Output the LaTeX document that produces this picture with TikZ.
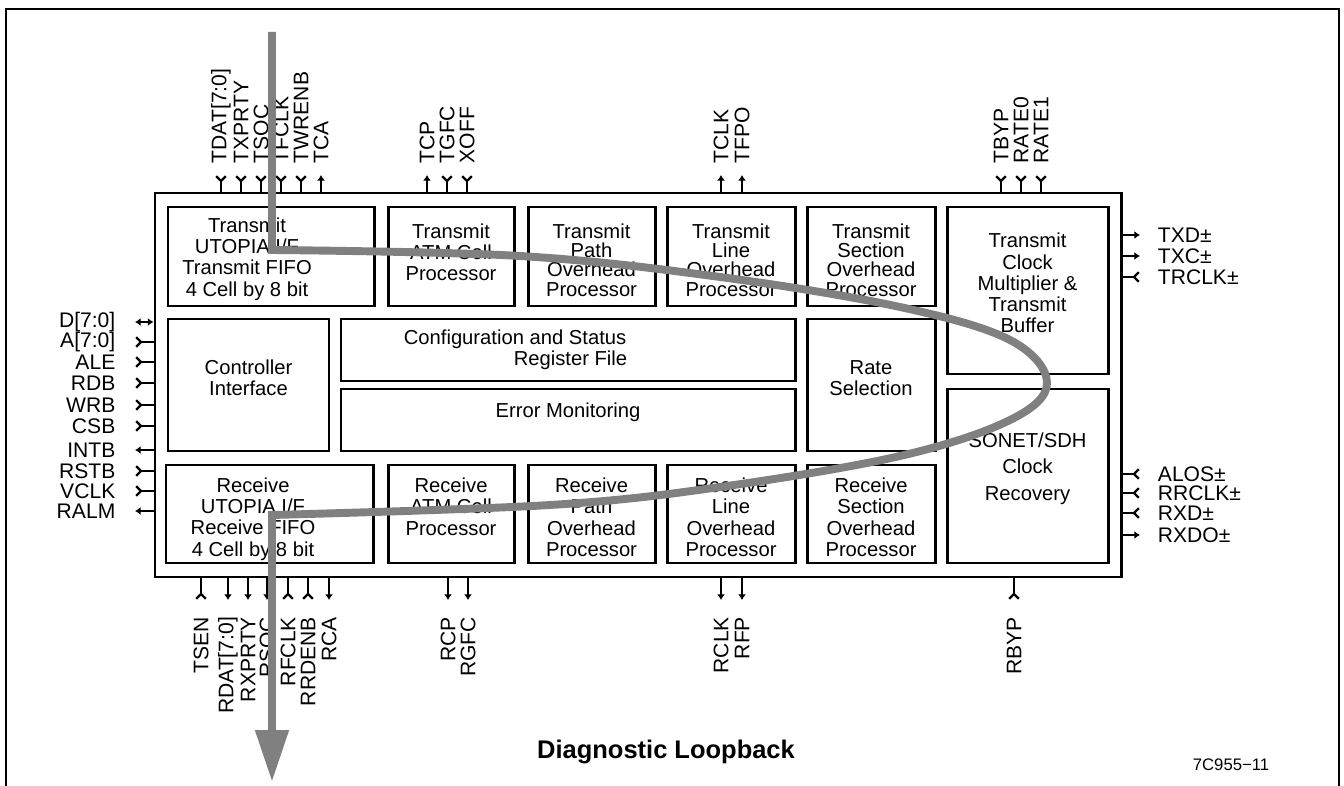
\documentclass[tikz,border=0pt]{standalone}
\usepackage{fontspec}
\setmainfont{Liberation Sans}
\usetikzlibrary{arrows.meta, positioning, fit}

\tikzset{
  chipbox/.style={draw, line width=1.7pt, inner sep=0pt},
  blk/.style={draw, line width=1.7pt, inner sep=0pt, align=center, font=\fontsize{11.5}{12.1}\selectfont},
  blktxt/.style={align=center, inner sep=0pt, font=\fontsize{11.5}{12.1}\selectfont},
  tighttxt/.style={blktxt, font=\fontsize{11.5}{11}\selectfont},
  inpin/.style={line width=1.3pt, -{Straight Barb[reversed, length=2.8pt, width=5.5pt]}},
  outpin/.style={line width=1.3pt, -{Latex[length=3.2pt, width=4.5pt]}},
  bipin/.style={line width=1.3pt, {Latex[length=3.2pt, width=4.5pt]}-{Latex[length=3.2pt, width=4.5pt]}},
  pinlbl/.style={inner sep=1pt, font=\fontsize{12}{12}\selectfont},
  loopback/.style={line width=4.5pt, black!50, -{Triangle[length=1.04cm, width=0.64cm]}}
}

\begin{document}
\begin{tikzpicture}[x=0.02cm, y=-0.02cm]
\useasboundingbox (0,0) rectangle (1344,786);
% frame
\draw[line width=1.3pt] (6,786) -- (6,9) -- (1339,9) -- (1339,786);

% chip outline
\node[chipbox, fit={(155,193) (1121,577)}] (chip) {};

% transmit blocks
\node[blk, fit={(168,207) (374,306)}] (tutp) {};
\node[blktxt] (tutptxt) at (247,259) {Transmit\\UTOPIA I/F\\Transmit FIFO\\4 Cell by 8 bit};
\node[blk, fit={(388,207) (514,306)}] (tatm) {};
\node[blktxt, below=10pt of tatm.north] (tatmtxt) {Transmit\\ATM Cell\\Processor};
\node[blk, fit={(528,207) (655,306)}] (tpoh) {};
\node[tighttxt, below=10pt of tpoh.north] (tpohtxt) {Transmit\\Path\\Overhead\\Processor};
\node[blk, fit={(667,207) (795,306)}] (tloh) {};
\node[tighttxt, below=10pt of tloh.north] (tlohtxt) {Transmit\\Line\\Overhead\\Processor};
\node[blk, fit={(807,207) (935,306)}] (tsoh) {};
\node[tighttxt, below=10pt of tsoh.north] (tsohtxt) {Transmit\\Section\\Overhead\\Processor};
\node[blk, fit={(947,207) (1108,374)}] (tcmb) {Transmit\\Clock\\Multiplier \&\\Transmit\\Buffer};

% middle blocks
\node[blk, fit={(168,319) (329,451)}] (ctrl) {Controller\\Interface};
\node[blk, fit={(341,319) (795,381)}] (cfg) {};
\node[blktxt, align=left, anchor=west] (cfgtxt) at ([xshift=1.28cm]cfg.west)
  {Configuration and Status\\\hspace*{2.2cm}Register File};
\node[blk, fit={(341,389) (795,451)}] (err) {Error Monitoring};
\node[blk, fit={(807,319) (935,451)}] (rsel) {Rate\\Selection};
\node[blk, fit={(947,389) (1108,563)}] (cdr) {SONET/SDH\\[3pt]Clock\\[3pt]Recovery};

% receive blocks
\node[blk, fit={(166,465) (373,563)}] (rutp) {};
\node[blktxt] (rutptxt) at (253,519) {Receive\\UTOPIA I/F\\Receive FIFO\\4 Cell by 8 bit};
\node[blk, fit={(388,465) (514,563)}] (ratm) {};
\node[blktxt, below=8pt of ratm.north] (ratmtxt) {Receive\\ATM Cell\\Processor};
\node[blk, fit={(528,465) (655,563)}] (rpoh) {};
\node[blktxt, below=8pt of rpoh.north] (rpohtxt) {Receive\\Path\\Overhead\\Processor};
\node[blk, fit={(667,465) (795,563)}] (rloh) {};
\node[blktxt, below=8pt of rloh.north] (rlohtxt) {Receive\\Line\\Overhead\\Processor};
\node[blk, fit={(807,465) (935,563)}] (rsoh) {};
\node[blktxt, below=8pt of rsoh.north] (rsohtxt) {Receive\\Section\\Overhead\\Processor};

% top pins
\foreach \x/\name/\kind [count=\i] in {221/{TDAT[7:0]}/inpin, 241/TXPRTY/inpin, 261/TSOC/inpin,
    281/TFCLK/inpin, 301/TWRENB/inpin, 321/TCA/outpin, 427/TCP/outpin, 447/TGFC/inpin,
    467/XOFF/inpin, 721/TCLK/outpin, 742/TFPO/outpin, 1001/TBYP/inpin, 1021/RATE0/inpin,
    1041/RATE1/inpin} {
  \coordinate (tp\i) at (\x,175);
  \draw[\kind] (chip.north -| tp\i) -- (tp\i);
  \node[pinlbl, rotate=90, anchor=west] (tl\i) at ([yshift=5.5pt]tp\i) {\name};
}

% bottom pins
\foreach \x/\name/\kind [count=\i] in {201/TSEN/inpin, 228/{RDAT[7:0]}/outpin, 248/RXPRTY/outpin,
    267/RSOC/outpin, 288/RFCLK/inpin, 308/RRDENB/inpin, 329/RCA/outpin, 448/RCP/outpin,
    468/RGFC/outpin, 721/RCLK/outpin, 742/RFP/outpin, 1014/RBYP/inpin} {
  \coordinate (bp\i) at (\x,600);
  \draw[\kind] (chip.south -| bp\i) -- (bp\i);
  \node[pinlbl, rotate=90, anchor=east] (bl\i) at ([yshift=-8.5pt]bp\i) {\name};
}

% left pins
\foreach \y/\name/\kind [count=\i] in {322/{D[7:0]}/bipin, 342/{A[7:0]}/inpin, 362/ALE/inpin,
    383/RDB/inpin, 405/WRB/inpin, 426/CSB/inpin, 450/INTB/outpin, 471/RSTB/inpin,
    491/VCLK/inpin, 511/RALM/outpin} {
  \coordinate (lp\i) at (135,\y);
  \draw[\kind] (chip.west |- lp\i) -- (lp\i);
  \node[pinlbl, anchor=east] (ll\i) at ([xshift=-10pt]lp\i) {\name};
}

% right pins
\foreach \y/\name/\kind [count=\i] in {235/TXD±/outpin, 256/TXC±/outpin, 277/TRCLK±/inpin,
    474/ALOS±/inpin, 493/RRCLK±/inpin, 513/RXD±/inpin, 535/RXDO±/outpin} {
  \coordinate (rp\i) at (1140,\y);
  \draw[\kind] (chip.east |- rp\i) -- (rp\i);
  \node[pinlbl, anchor=west] (rl\i) at ([xshift=9pt]rp\i) {\name};
}

% diagnostic loopback path
\coordinate (lbin) at (272,32);
\coordinate (lbout) at (272,782);
\draw[loopback] (lbin) -- (272,250) -- plot[smooth, tension=0.6] coordinates {(272,250) (520,256)
    (720,277) (900,307) (1010,340) (1047,383) (1010,420) (900,456) (720,487) (550,505) (272,515)}
    -- (lbout);

\node[font=\bfseries\fontsize{14.5}{16}\selectfont] (title) at (666,752) {Diagnostic Loopback};
\node[font=\fontsize{9.5}{11}\selectfont] (figno) at (1231,765) {7C955−11};
\end{tikzpicture}
\end{document}
